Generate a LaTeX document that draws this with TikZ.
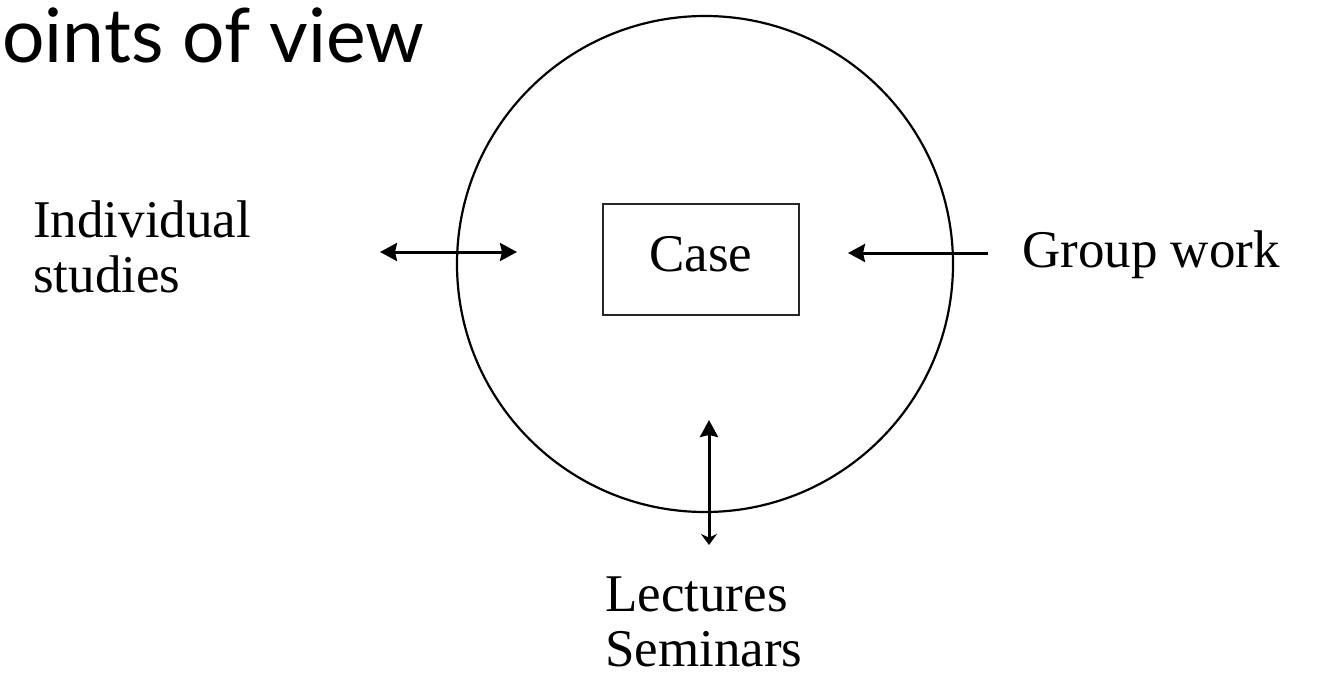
\documentclass[tikz,border=0pt]{standalone}
\usepackage{fontspec}
\setmainfont{Liberation Serif}
\newfontfamily\titlefont{Lato}
\usetikzlibrary{arrows.meta}

\begin{document}
\begin{tikzpicture}[x=1pt, y=-1pt, >={Stealth[length=17pt, width=18pt, inset=2pt]}]

        % --- STYLES ---
        \tikzstyle{ring} = [draw=black, line width=2.2pt, circle, inner sep=0pt, minimum size=496pt]
        \tikzstyle{casebox} = [draw=black!85, line width=2.5pt, rectangle, minimum width=196pt, minimum height=111pt, text depth=12pt, font=\fontsize{53}{55}\selectfont]
        \tikzstyle{label_node} = [inner sep=0pt, align=left, font=\fontsize{53}{55}\selectfont]
        \tikzstyle{view} = [line width=3pt]

        % --- PAGE ---
        \useasboundingbox (0,0) rectangle (1325,679);

        % --- TITLE (starts at the left edge) ---
        \node[inner sep=0pt, anchor=base west, font=\titlefont\fontsize{75}{80}\selectfont] (title) at (2,63) {oints of view};

        % --- CIRCLE AND CASE ---
        \node[ring] (ring) at (705,264) {};
        \node[casebox] (case) at (701,259.5) {Case};

        % --- POINTS OF VIEW ---
        \node[label_node, anchor=north west] (indiv) at (33,201) {Individual\\studies};
        \node[label_node, anchor=base west] (group) at (1022,267) {Group work};
        \node[label_node, anchor=north west] (lect) at (605,577) {Lectures\\Seminars};

        % arrow end points
        \coordinate (indL) at (380,252);
        \coordinate (indR) at (517,252);
        \coordinate (grpT) at (988,253);
        \coordinate (grpH) at (848,253);
        \coordinate (lecB) at (709,545);
        \coordinate (lecT) at (709,420);

        % --- ARROWS ---
        % Individual studies (both ways)
        \draw[view, <->] (indL) -- (indR);
        % Group work (into the circle)
        \draw[view, ->] (grpT) -- (grpH);
        % Lectures / seminars
        \draw[view, {Stealth[length=11pt, width=16pt]}->] (lecB) -- (lecT);

    \end{tikzpicture}
\end{document}
